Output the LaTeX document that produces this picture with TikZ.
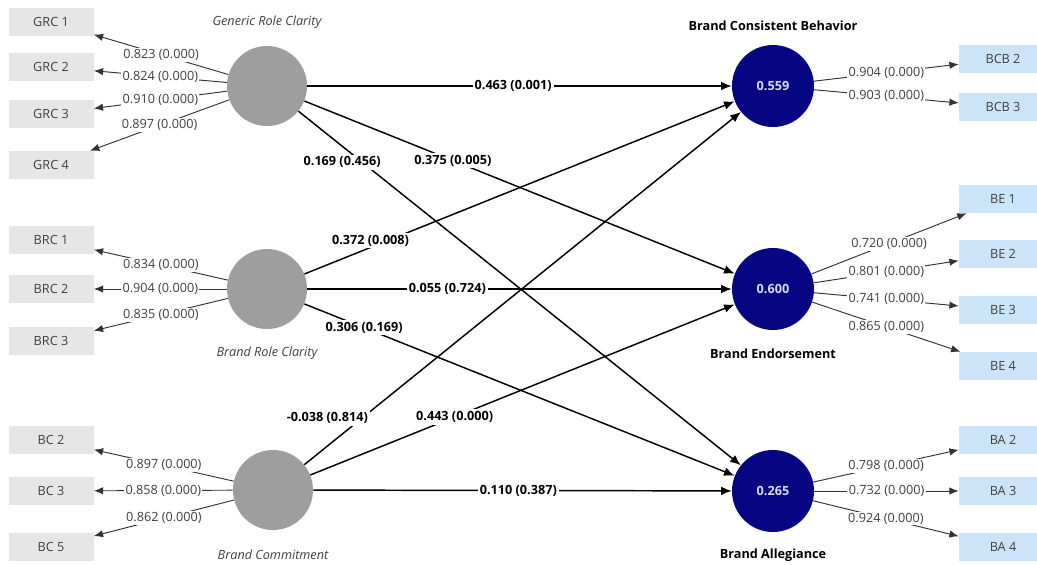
\documentclass[tikz,border=0pt]{standalone}
\usepackage{fontspec}
\setmainfont{Open Sans}
\usetikzlibrary{arrows.meta}
\definecolor{latgray}{RGB}{158,158,158}
\definecolor{navyc}{RGB}{6,6,130}
\definecolor{boxgray}{RGB}{230,230,230}
\definecolor{boxblue}{RGB}{204,228,250}
\definecolor{txtgray}{RGB}{64,64,64}
\definecolor{lingray}{RGB}{50,50,50}
\begin{document}
\begin{tikzpicture}[x=0.75pt,y=-0.75pt,
  lat/.style={circle,fill=latgray,minimum size=60pt,inner sep=0pt},
  endo/.style={circle,fill=navyc,text=white!85!blue,minimum size=61.5pt,inner sep=0pt,font=\bfseries\fontsize{9.5}{11}\selectfont},
  indl/.style={fill=boxgray,minimum width=63.75pt,minimum height=21pt,inner sep=0pt,text=txtgray,font=\fontsize{9.5}{11}\selectfont},
  indr/.style={fill=boxblue,minimum width=66pt,minimum height=21pt,inner sep=0pt,text=txtgray,font=\fontsize{9.5}{11}\selectfont},
  ltitle/.style={text=txtgray,font=\itshape\fontsize{9.5}{11}\selectfont},
  rtitle/.style={text=black,font=\bfseries\fontsize{9.5}{11}\selectfont},
  load/.style={draw=lingray,line width=0.7pt,-{Latex[length=7pt,width=5.5pt]}},
  lval/.style={fill=white,inner sep=1pt,text=txtgray,font=\fontsize{9.5}{11}\selectfont},
  pth/.style={draw=black,line width=1.1pt,-{Latex[length=8pt,width=6.5pt]}},
  pval/.style={fill=white,inner sep=1.5pt,text=black,font=\bfseries\fontsize{9.5}{11}\selectfont}
]
\useasboundingbox[fill=white] (0,0) rectangle (1037,564);

% latent variables
\node[lat] (grc) at (267,86) {};
\node[lat] (brc) at (267,289) {};
\node[lat] (bc) at (273,490) {};
\node[endo] (bcb) at (773,86) {0.559};
\node[endo] (be) at (773,289) {0.600};
\node[endo] (ba) at (773,491) {0.265};

% titles
\node[ltitle] (tgrc) at (267,22) {Generic Role Clarity};
\node[ltitle] (tbrc) at (267,353) {Brand Role Clarity};
\node[ltitle] (tbc) at (273,555) {Brand Commitment};
\node[rtitle] (tbcb) at (773,26) {Brand Consistent Behavior};
\node[rtitle] (tbe) at (773,354) {Brand Endorsement};
\node[rtitle] (tba) at (773,555) {Brand Allegiance};

% left indicators
\node[indl] (grc1) at (51,22) {GRC 1};
\node[indl] (grc2) at (51,67) {GRC 2};
\node[indl] (grc3) at (51,114) {GRC 3};
\node[indl] (grc4) at (51,165) {GRC 4};
\node[indl] (brc1) at (51,240) {BRC 1};
\node[indl] (brc2) at (51,289) {BRC 2};
\node[indl] (brc3) at (51,341) {BRC 3};
\node[indl] (bc2) at (51,440) {BC 2};
\node[indl] (bc3) at (51,491) {BC 3};
\node[indl] (bc5) at (51,547) {BC 5};

% right indicators
\node[indr] (bcb2) at (1003,59) {BCB 2};
\node[indr] (bcb3) at (1003,107) {BCB 3};
\node[indr] (be1) at (1003,199) {BE 1};
\node[indr] (be2) at (1003,254) {BE 2};
\node[indr] (be3) at (1003,310) {BE 3};
\node[indr] (be4) at (1003,366) {BE 4};
\node[indr] (ba2) at (1003,440) {BA 2};
\node[indr] (ba3) at (1003,491) {BA 3};
\node[indr] (ba4) at (1003,547) {BA 4};

% outer loadings
\draw[load] (grc) -- node[lval] {0.823 (0.000)} (grc1);
\draw[load] (grc) -- node[lval] {0.824 (0.000)} (grc2);
\draw[load] (grc) -- node[lval] {0.910 (0.000)} (grc3);
\draw[load] (grc) -- node[lval] {0.897 (0.000)} (grc4);
\draw[load] (brc) -- node[lval] {0.834 (0.000)} (brc1);
\draw[load] (brc) -- node[lval] {0.904 (0.000)} (brc2);
\draw[load] (brc) -- node[lval] {0.835 (0.000)} (brc3);
\draw[load] (bc) -- node[lval] {0.897 (0.000)} (bc2);
\draw[load] (bc) -- node[lval] {0.858 (0.000)} (bc3);
\draw[load] (bc) -- node[lval] {0.862 (0.000)} (bc5);
\draw[load] (bcb) -- node[lval] {0.904 (0.000)} (bcb2);
\draw[load] (bcb) -- node[lval] {0.903 (0.000)} (bcb3);
\draw[load] (be) -- node[lval] {0.720 (0.000)} (be1);
\draw[load] (be) -- node[lval] {0.801 (0.000)} (be2);
\draw[load] (be) -- node[lval] {0.741 (0.000)} (be3);
\draw[load] (be) -- node[lval] {0.865 (0.000)} (be4);
\draw[load] (ba) -- node[lval] {0.798 (0.000)} (ba2);
\draw[load] (ba) -- node[lval] {0.732 (0.000)} (ba3);
\draw[load] (ba) -- node[lval] {0.924 (0.000)} (ba4);

% structural paths
\draw[pth] (grc) -- node[pval,pos=0.485] {0.463 (0.001)} (bcb);
\draw[pth] (grc) -- node[pval,pos=0.345] {0.375 (0.005)} (be);
\draw[pth] (grc) -- node[pval,pos=0.144,xshift=-15pt] {0.169 (0.456)} (ba);
\draw[pth] (brc) -- node[pval,pos=0.194,xshift=-13pt] {0.372 (0.008)} (bcb);
\draw[pth] (brc) -- node[pval,pos=0.33] {0.055 (0.724)} (be);
\draw[pth] (brc) -- node[pval,pos=0.139] {0.306 (0.169)} (ba);
\draw[pth] (bc) -- node[pval,pos=0.132,xshift=-26pt] {-0.038 (0.814)} (bcb);
\draw[pth] (bc) -- node[pval,pos=0.34] {0.443 (0.000)} (be);
\draw[pth] (bc) -- node[pval,pos=0.49] {0.110 (0.387)} (ba);
\end{tikzpicture}
\end{document}
